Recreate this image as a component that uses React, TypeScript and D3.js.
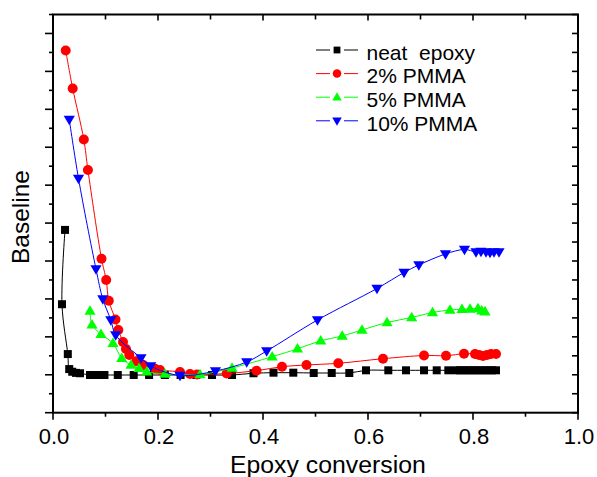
import React from "react";
import * as d3 from "d3";

// ---- data (x: epoxy conversion, y: baseline in arbitrary units) ----
const neatX = [0.0229, 0.0171, 0.0282, 0.0309, 0.0366, 0.0438, 0.0514, 0.0705, 0.08, 0.0895, 0.098, 0.1234, 0.1537, 0.183, 0.213, 0.243, 0.273, 0.3029, 0.341, 0.3819, 0.42, 0.4577, 0.4966, 0.5309, 0.5644, 0.5962, 0.6387, 0.6724, 0.7067, 0.7309, 0.753, 0.7676, 0.7752, 0.7829, 0.7905, 0.7981, 0.8057, 0.8133, 0.821, 0.8286, 0.8362, 0.8438];
const neatY = [4.82, 2.86, 1.546, 1.15, 1.08, 1.05, 1.04, 0.994, 0.994, 0.994, 0.994, 0.994, 0.994, 0.994, 0.994, 0.994, 0.994, 0.994, 0.994, 1.04, 1.055, 1.055, 1.047, 1.047, 1.047, 1.118, 1.118, 1.118, 1.118, 1.118, 1.118, 1.118, 1.118, 1.118, 1.118, 1.118, 1.118, 1.118, 1.118, 1.118, 1.118, 1.118];

const pmma2X = [0.0242, 0.0375, 0.0587, 0.0665, 0.0924, 0.1013, 0.1063, 0.119, 0.1244, 0.1333, 0.139, 0.1453, 0.1587, 0.172, 0.1943, 0.2038, 0.2419, 0.261, 0.2743, 0.3309, 0.3876, 0.4362, 0.4829, 0.5434, 0.6286, 0.7067, 0.7486, 0.7829, 0.8038, 0.8114, 0.819, 0.8267, 0.8343, 0.8438];
const pmma2Y = [9.552, 8.55, 7.205, 6.4, 4.061, 3.5, 2.954, 2.456, 2.181, 1.864, 1.68, 1.52, 1.355, 1.258, 1.16, 1.126, 1.074, 1.02, 1.007, 1.034, 1.108, 1.213, 1.258, 1.303, 1.424, 1.508, 1.503, 1.556, 1.548, 1.522, 1.496, 1.522, 1.548, 1.548];

const pmma5X = [0.0705, 0.0743, 0.0914, 0.1143, 0.1309, 0.1486, 0.1638, 0.1785, 0.2133, 0.28, 0.341, 0.4175, 0.4657, 0.5099, 0.5509, 0.5886, 0.6362, 0.6832, 0.7229, 0.7562, 0.779, 0.7943, 0.8095, 0.8166, 0.8229];
const pmma5Y = [2.682, 2.321, 2.067, 1.83, 1.435, 1.258, 1.171, 1.081, 1.021, 1.007, 1.179, 1.477, 1.685, 1.896, 2.023, 2.181, 2.379, 2.51, 2.642, 2.708, 2.727, 2.735, 2.748, 2.69, 2.664];

const pmma10X = [0.031, 0.0486, 0.0819, 0.0949, 0.1101, 0.1194, 0.1676, 0.1861, 0.2419, 0.3095, 0.369, 0.407, 0.5038, 0.6171, 0.6686, 0.6968, 0.7476, 0.7838, 0.8057, 0.8152, 0.8248, 0.8324, 0.84, 0.8495];
const pmma10Y = [7.732, 6.176, 3.79, 2.998, 2.445, 2.049, 1.443, 1.232, 0.981, 1.1, 1.337, 1.627, 2.445, 3.275, 3.697, 3.895, 4.185, 4.304, 4.238, 4.251, 4.238, 4.225, 4.238, 4.238];

const xTickLabels = ["0.0", "0.2", "0.4", "0.6", "0.8", "1.0"];
const seriesNames = ["neat  epoxy", "2% PMMA", "5% PMMA", "10% PMMA"];
const seriesColors = ["#000000", "#ff0000", "#00ff00", "#0000ff"];
const seriesShapes = ["square", "circle", "up", "down"];

const W = 597, H = 477;
const L = 53, R = 578, T = 14.5, B = 412.7;
const FONT = "Arial, 'Liberation Sans', Helvetica, sans-serif";

const x = d3.scaleLinear().domain([0, 1]).range([L, R]);
const y = d3.scaleLinear().domain([0, 10.5]).range([B, T]);

function Marker({ shape, cx, cy, color, s = 1 }: { shape: string; cx: number; cy: number; color: string; s?: number }) {
  if (shape === "square") {
    const h = 4 * s;
    return <rect x={cx - h} y={cy - h} width={2 * h} height={2 * h} fill={color} />;
  }
  if (shape === "circle") return <circle cx={cx} cy={cy} r={5 * s} fill={color} />;
  const w = 5.6 * s, a = 5.8 * s, b = 3.8 * s;
  if (shape === "up")
    return <path d={`M${cx},${cy - a} L${cx + w},${cy + b} L${cx - w},${cy + b} Z`} fill={color} />;
  return <path d={`M${cx},${cy + a} L${cx + w},${cy - b} L${cx - w},${cy - b} Z`} fill={color} />;
}

export default function App() {
  const series = [
    { xs: neatX, ys: neatY },
    { xs: pmma2X, ys: pmma2Y },
    { xs: pmma5X, ys: pmma5Y },
    { xs: pmma10X, ys: pmma10Y },
  ];
  const line = d3
    .line<[number, number]>()
    .x((d) => x(d[0]))
    .y((d) => y(d[1]))
    .curve(d3.curveCatmullRom.alpha(0.5));

  const xMinor = d3.range(0, 1.0001, 0.1);
  const yTicks = d3.range(0, 10.5001, 0.5);

  return (
    <svg width={W} height={H} style={{ position: "absolute", left: 0, top: 0, background: "#fff" }} fontFamily={FONT}>
      <rect x={0} y={0} width={W} height={H} fill="#fff" />
      {/* series */}
      {series.map((s, i) => {
        const pts = s.xs.map((v, j) => [v, s.ys[j]] as [number, number]);
        return (
          <g key={i}>
            <path d={line(pts) || ""} fill="none" stroke={seriesColors[i]} strokeWidth={1} />
            {pts.map((p, j) => (
              <Marker key={j} shape={seriesShapes[i]} cx={x(p[0])} cy={y(p[1])} color={seriesColors[i]} />
            ))}
          </g>
        );
      })}
      {/* x ticks */}
      {xMinor.map((v, i) => {
        const major = i % 2 === 0;
        const px = x(v);
        return (
          <g key={"xt" + i}>
            <line x1={px} x2={px} y1={B} y2={B + (major ? 7 : 4)} stroke="#000" strokeWidth={1.6} />
            <line x1={px} x2={px} y1={T} y2={T + (major ? 6 : 5)} stroke="#000" strokeWidth={1.6} />
          </g>
        );
      })}
      {/* y ticks */}
      {yTicks.map((v, i) => {
        const major = i % 2 === 0;
        const py = y(v);
        return (
          <g key={"yt" + i}>
            <line x1={L - (major ? 8 : 4)} x2={L} y1={py} y2={py} stroke="#000" strokeWidth={1.6} />
            <line x1={R - 6} x2={R} y1={py} y2={py} stroke="#000" strokeWidth={1.6} />
          </g>
        );
      })}
      {/* frame */}
      <rect x={L} y={T} width={R - L} height={B - T} fill="none" stroke="#000" strokeWidth={2} />
      {/* x tick labels */}
      {xTickLabels.map((t, i) => (
        <text key={"xl" + i} x={x(i * 0.2) + 1} y={444} textAnchor="middle" fontSize={22} fill="#000">
          {t}
        </text>
      ))}
      {/* axis titles */}
      <text x={230} y={473} fontSize={24.8} fill="#000">
        Epoxy conversion
      </text>
      <text transform={`translate(29,217) rotate(-90)`} textAnchor="middle" fontSize={24.5} fill="#000">
        Baseline
      </text>
      {/* legend */}
      {seriesNames.map((n, i) => {
        const cy = 50 + i * 23.6;
        return (
          <g key={"lg" + i}>
            <line x1={316} x2={330} y1={cy} y2={cy} stroke={seriesColors[i]} strokeWidth={1} />
            <line x1={344} x2={358} y1={cy} y2={cy} stroke={seriesColors[i]} strokeWidth={1} />
            <Marker shape={seriesShapes[i]} cx={337} cy={cy} color={seriesColors[i]} s={0.85} />
            <text x={366.5} y={cy + 9.8} fontSize={21} fill="#000" style={{ whiteSpace: "pre" }}>
              {n}
            </text>
          </g>
        );
      })}
    </svg>
  );
}
